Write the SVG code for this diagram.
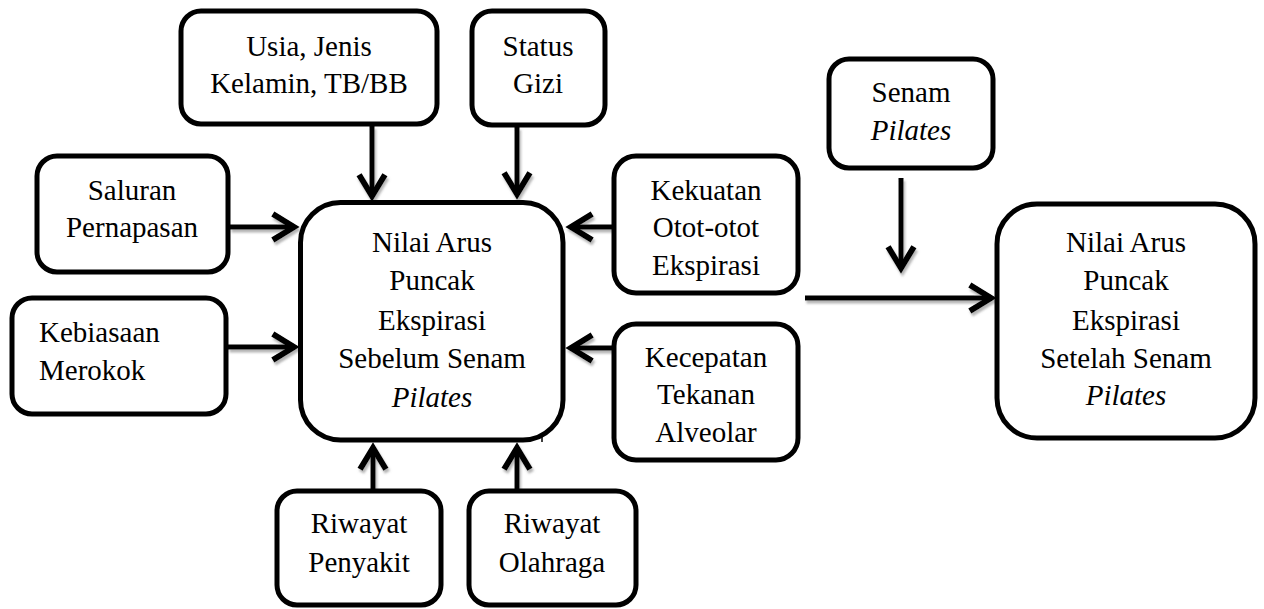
<svg xmlns="http://www.w3.org/2000/svg" width="1264" height="609" viewBox="0 0 1264 609" font-family="Liberation Serif, Times New Roman, serif">
<style>
.box{fill:#fff;stroke:#000;stroke-width:5}
.t{font-size:29px;fill:#000;text-anchor:middle}
.l{text-anchor:start}
.i{font-style:italic}
.c{stroke:#000;stroke-width:5;fill:none}
</style>
<defs>
<marker id="ah" markerUnits="userSpaceOnUse" orient="auto" markerWidth="40" markerHeight="40" viewBox="-24 -16 34 32" refX="0" refY="0" overflow="visible">
<path d="M-18,-11 L0,0 L-18,11" fill="none" stroke="#000" stroke-width="5"/>
</marker>
<filter id="sh" x="-20%" y="-20%" width="140%" height="140%">
<feDropShadow dx="1.5" dy="3" stdDeviation="1" flood-color="#777" flood-opacity="0.55"/>
</filter>
<clipPath id="kclip"><rect x="616" y="158" width="180" height="132"/></clipPath>
</defs>
<rect width="1264" height="609" fill="#fff"/>

<g id="connectors" filter="url(#sh)">
<line class="c" x1="372" y1="126" x2="372" y2="196" marker-end="url(#ah)"/>
<line class="c" x1="517" y1="127" x2="517" y2="194" marker-end="url(#ah)"/>
<line class="c" x1="230" y1="227" x2="294" y2="227" marker-end="url(#ah)"/>
<line class="c" x1="228" y1="347" x2="294" y2="347" marker-end="url(#ah)"/>
<line class="c" x1="612" y1="227" x2="571" y2="227" marker-end="url(#ah)"/>
<line class="c" x1="612" y1="348" x2="571" y2="348" marker-end="url(#ah)"/>
<line class="c" x1="373" y1="489" x2="373" y2="448" marker-end="url(#ah)"/>
<line class="c" x1="517" y1="489" x2="517" y2="448" marker-end="url(#ah)"/>
<line class="c" x1="901" y1="178" x2="901" y2="268" marker-end="url(#ah)"/>
<line class="c" x1="805" y1="298" x2="991" y2="298" marker-end="url(#ah)"/>
</g>

<g id="usia">
<rect class="box" x="181" y="11" width="256" height="113" rx="20"/>
<text class="t" x="309" y="56">Usia, Jenis</text>
<text class="t" x="309" y="93">Kelamin, TB/BB</text>
</g>
<g id="status">
<rect class="box" x="472" y="11" width="133" height="114" rx="20"/>
<text class="t" x="538" y="56">Status</text>
<text class="t" x="538" y="93">Gizi</text>
</g>
<g id="saluran">
<rect class="box" x="37" y="156" width="191" height="116" rx="20"/>
<text class="t" x="132" y="200">Saluran</text>
<text class="t" x="132" y="237">Pernapasan</text>
</g>
<g id="kebiasaan">
<rect class="box" x="12" y="298" width="214" height="116" rx="20"/>
<text class="t l" x="39" y="342">Kebiasaan</text>
<text class="t l" x="39" y="380">Merokok</text>
</g>
<g id="main">
<rect class="box" x="300.5" y="202.5" width="262.5" height="237.5" rx="40"/>
<line x1="542" y1="434" x2="542" y2="442" stroke="#000" stroke-width="1.5"/>
<text class="t" x="432" y="252">Nilai Arus</text>
<text class="t" x="432" y="290">Puncak</text>
<text class="t" x="432" y="330">Ekspirasi</text>
<text class="t" x="432" y="368">Sebelum Senam</text>
<text class="t i" x="432" y="407">Pilates</text>
</g>
<g id="kekuatan">
<rect class="box" x="614" y="156" width="184" height="137" rx="22"/>
<g clip-path="url(#kclip)">
<text class="t" x="706" y="200">Kekuatan</text>
<text class="t" x="706" y="237">Otot-otot</text>
<text class="t" x="706" y="275">Ekspirasi</text>
</g>
</g>
<g id="kecepatan">
<rect class="box" x="614" y="324" width="184" height="136" rx="22"/>
<text class="t" x="706" y="367">Kecepatan</text>
<text class="t" x="706" y="404">Tekanan</text>
<text class="t" x="706" y="442">Alveolar</text>
</g>
<g id="senam">
<rect class="box" x="829" y="59" width="164" height="109" rx="20"/>
<text class="t" x="911" y="102">Senam</text>
<text class="t i" x="911" y="140">Pilates</text>
</g>
<g id="hasil">
<rect class="box" x="997" y="204" width="258" height="234" rx="40"/>
<text class="t" x="1126" y="252">Nilai Arus</text>
<text class="t" x="1126" y="290">Puncak</text>
<text class="t" x="1126" y="330">Ekspirasi</text>
<text class="t" x="1126" y="368">Setelah Senam</text>
<text class="t i" x="1126" y="405">Pilates</text>
</g>
<g id="penyakit">
<rect class="box" x="277" y="491" width="164" height="114" rx="20"/>
<text class="t" x="359" y="533">Riwayat</text>
<text class="t" x="359" y="572">Penyakit</text>
</g>
<g id="olahraga">
<rect class="box" x="469" y="491" width="167" height="114" rx="20"/>
<text class="t" x="552" y="533">Riwayat</text>
<text class="t" x="552" y="572">Olahraga</text>
</g>
</svg>
